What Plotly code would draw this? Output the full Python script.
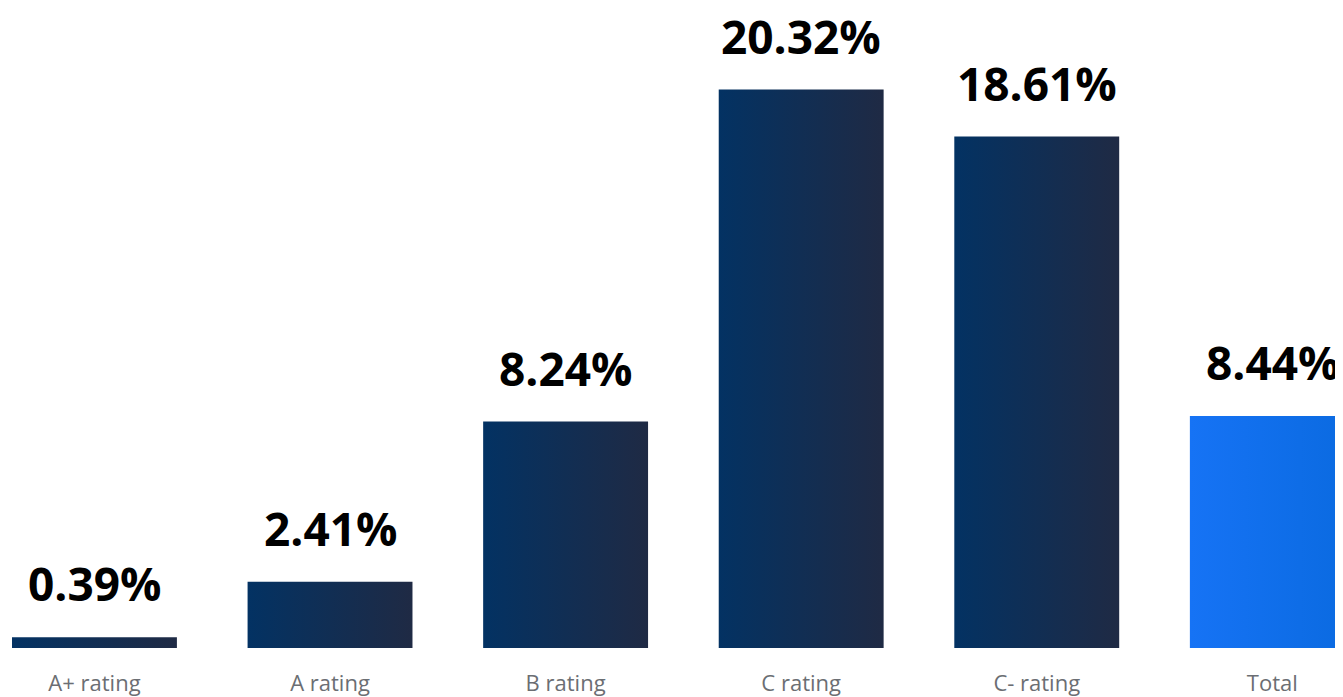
import plotly.graph_objects as go

categories = ["A+ rating", "A rating", "B rating", "C rating", "C- rating", "Total"]
values = [0.39, 2.41, 8.24, 20.32, 18.61, 8.44]
labels = ["0.39%", "2.41%", "8.24%", "20.32%", "18.61%", "8.44%"]

navy_grad = [[0, "#033263"], [1, "#1f2a44"]]
blue_grad = [[0, "#1673f5"], [1, "#0a6ae0"]]

half_w = 0.35
fig = go.Figure()
for i, (cat, v) in enumerate(zip(categories, values)):
    grad = blue_grad if cat == "Total" else navy_grad
    fig.add_trace(go.Scatter(
        x=[i - half_w, i + half_w, i + half_w, i - half_w, i - half_w],
        y=[0, 0, v, v, 0],
        mode="lines",
        line=dict(width=0),
        fill="toself",
        fillgradient=dict(type="horizontal", colorscale=grad),
        hoverinfo="skip",
        showlegend=False,
    ))
    fig.add_annotation(
        x=i, y=v, text=labels[i], showarrow=False,
        yanchor="bottom", yshift=21,
        font=dict(family="Open Sans", size=46, color="#000000", weight="bold"),
    )

fig.update_layout(
    width=1335, height=689,
    margin=dict(l=0, r=0, t=0, b=47),
    plot_bgcolor="white", paper_bgcolor="white",
    xaxis=dict(
        range=[-0.367, 5.300], tickmode="array",
        tickvals=list(range(len(categories))), ticktext=categories,
        showgrid=False, zeroline=False, showline=False, ticks="",
        tickfont=dict(family="Open Sans", size=22, color="#6b6e73"),
        ticklabelstandoff=20,
        fixedrange=True,
    ),
    yaxis=dict(
        range=[0, 23.29], visible=False, showgrid=False, zeroline=False,
        fixedrange=True,
    ),
)

fig.write_html("out.html")
